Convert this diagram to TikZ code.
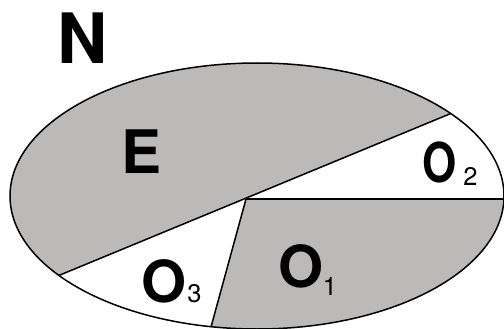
\documentclass[tikz,border=0pt]{standalone}
\usepackage{fontspec}
\setmainfont{TeX Gyre Heros}
\usetikzlibrary{calc,positioning}
\definecolor{Shade}{HTML}{BBBAB8}
\definecolor{Ink}{HTML}{000000}

\begin{document}
\begin{tikzpicture}[
  x=1pt,y=-1pt,
  region/.style={fill=Shade},
  edge/.style={draw=Ink,line width=1.5pt},
  biglabel/.style={inner sep=0pt,font=\fontsize{58}{58}\selectfont\bfseries},
  sublabel/.style={inner sep=0pt,font=\fontsize{25.5}{25.5}\selectfont}
]
  \useasboundingbox (0,0) rectangle (504,329);
  \coordinate (centre) at (257,196);
  \coordinate (meet) at (246,199);
  \coordinate (ne) at (452,113);
  \coordinate (sw) at (60,275);
  \coordinate (east) at (504,199);
  \coordinate (south) at (211,327);
  \coordinate (nex) at ($(sw)!1.2!(ne)$);
  \coordinate (swx) at ($(ne)!1.2!(sw)$);
  \coordinate (eastx) at ($(meet)!1.2!(east)$);
  \coordinate (southx) at ($(meet)!1.2!(south)$);
  \fill[white] (centre) ellipse [x radius=247pt,y radius=133pt];
  \begin{scope}
    \clip (centre) ellipse [x radius=247pt,y radius=133pt];
    \fill[region] (swx) -- (nex) -- (nex |- 0,-20) -- (swx |- 0,-20) -- cycle;
    \fill[region] (meet) -- (eastx) -- (eastx |- southx) -- (southx) -- cycle;
    \draw[edge] (swx) -- (nex);
    \draw[edge] (meet) -- (eastx);
    \draw[edge] (meet) -- (southx);
  \end{scope}
  \draw[edge] (centre) ellipse [x radius=247pt,y radius=133pt];
  % labels
  \node[biglabel,font=\fontsize{69.5}{69.5}\selectfont\bfseries] (setN) at (83,38) {N};
  \node[biglabel,font=\fontsize{60}{60}\selectfont\bfseries] (setE) at (142,151.5) {E};
  \node[biglabel] (setO1) at (301.5,266.5) {O};
  \node[sublabel] (setO1n) at (330,286) {1};
  \node[biglabel,xscale=0.8,font=\fontsize{55}{55}\selectfont\bfseries] (setO2) at (439.5,162.5) {O};
  \node[sublabel] (setO2n) at (470.5,176) {2};
  \node[biglabel] (setO3) at (164,281.5) {O};
  \node[sublabel] (setO3n) at (194.5,294) {3};
\end{tikzpicture}
\end{document}
